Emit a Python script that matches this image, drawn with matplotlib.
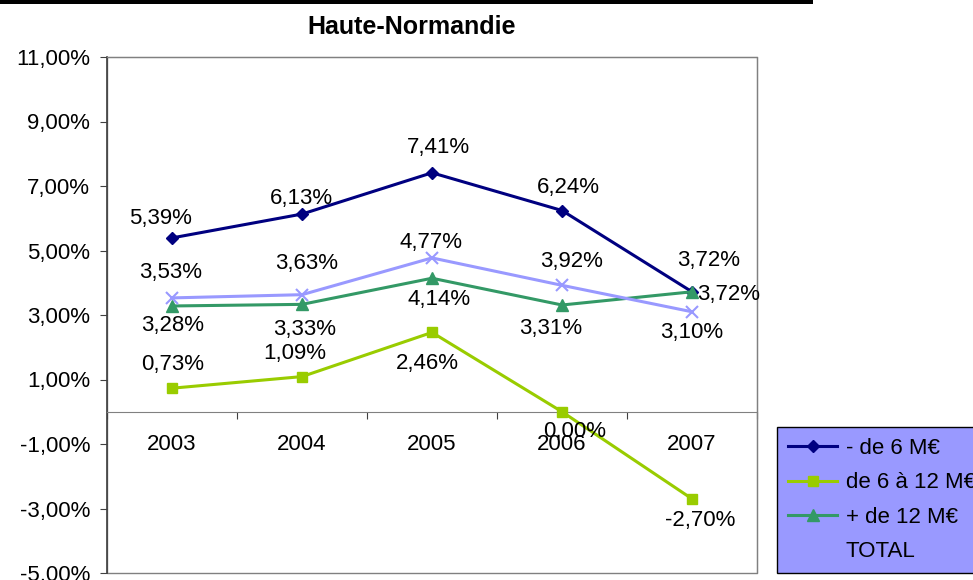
import numpy as np
import matplotlib
matplotlib.use('Agg')
import matplotlib.pyplot as plt
from matplotlib.patches import Rectangle

plt.rcParams['font.family'] = ['Liberation Sans', 'DejaVu Sans']
plt.rcParams['font.size'] = 16

# donnees
annees = ['2003', '2004', '2005', '2006', '2007']
moins_6 = [5.39, 6.13, 7.41, 6.24, 3.72]
de_6_a_12 = [0.73, 1.09, 2.46, 0.00, -2.70]
plus_12 = [3.28, 3.33, 4.14, 3.31, 3.72]
total = [3.53, 3.63, 4.77, 3.92, 3.10]
yticks = [-5, -3, -1, 1, 3, 5, 7, 9, 11]

# decalage des etiquettes (pixels)
off_moins_6 = [(-11, 19), (-1, 16), (6, 25), (6, 23), (17, 31)]
off_6_12 = [(1, 24), (-7, 23), (-5, -31), (13, -20), (8, -22)]
off_plus_12 = [(1, -20), (3, -25), (7, -21), (-11, -23), (37, -3)]
off_total = [(-1, 25), (5, 31), (-1, 15), (10, 24), (0, -21)]

def fmt(v):
    return f'{v:.2f}%'.replace('.', ',')

fig = plt.figure(figsize=(9.73, 5.80), dpi=100)
ax = fig.add_axes([107/973, 7/580, 650/973, 516/580])

x = np.arange(len(annees))
series = [
    (moins_6, '- de 6 M€', '#000080', 'D', 6, off_moins_6),
    (de_6_a_12, 'de 6 à 12 M€', '#99CC00', 's', 7, off_6_12),
    (plus_12, '+ de 12 M€', '#339966', '^', 8, off_plus_12),
    (total, 'TOTAL', '#9999FF', 'x', 8, off_total),
]
handles = []
for vals, lab, col, mk, ms, offs in series:
    h, = ax.plot(x, vals, color=col, lw=2.2, marker=mk, ms=ms,
                 mew=1.5 if mk == 'x' else 1, label=lab, zorder=3)
    handles.append(h)
    for xi, v, (dx, dy) in zip(x, vals, offs):
        ax.annotate(fmt(v), (xi, v), xytext=(dx, dy), textcoords='offset pixels',
                    ha='center', va='center', fontsize=16, zorder=4)

ax.set_xlim(-0.5, len(annees) - 0.5)
ax.set_ylim(-5, 11)
ax.set_yticks(yticks)
ax.set_yticklabels([fmt(v) for v in yticks])
ax.tick_params(axis='y', direction='out', length=5, color='#404040', pad=7)

# axe des categories sur la ligne zero
ax.spines['bottom'].set_position(('data', 0))
ax.spines['bottom'].set_color('#808080')
ax.set_xticks(np.arange(len(annees) + 1) - 0.5)
ax.set_xticklabels([])
ax.set_xticks(x, minor=True)
ax.set_xticklabels(annees, minor=True)
ax.tick_params(axis='x', which='major', direction='out', length=5, color='#404040')
ax.tick_params(axis='x', which='minor', length=0, pad=16)

ax.spines['left'].set_color('#404040')
ax.spines['left'].set_linewidth(1.2)
for s in ['top', 'right']:
    ax.spines[s].set_color('#808080')
ax.add_patch(Rectangle((0, 0), 1, 1, transform=ax.transAxes, fill=False,
                       edgecolor='#808080', lw=1, clip_on=False, zorder=1))

fig.text(412/973, 1 - 27/580, 'Haute-Normandie', ha='center', va='center',
         fontsize=18, fontweight='bold')
fig.patches.append(Rectangle((0, 1 - 4/580), 813/973, 4/580, transform=fig.transFigure,
                             facecolor='black', edgecolor='none'))

leg = fig.legend(handles=handles, loc='upper left', bbox_to_anchor=(777/973, 1 - 427/580),
                 frameon=True, fancybox=False, facecolor='#9999FF', edgecolor='black',
                 framealpha=1, fontsize=16, handlelength=2.2, borderpad=0.5,
                 labelspacing=0.6, handletextpad=0.4, borderaxespad=0)
leg.get_frame().set_linewidth(1)

fig.savefig('out.png', dpi=100)
